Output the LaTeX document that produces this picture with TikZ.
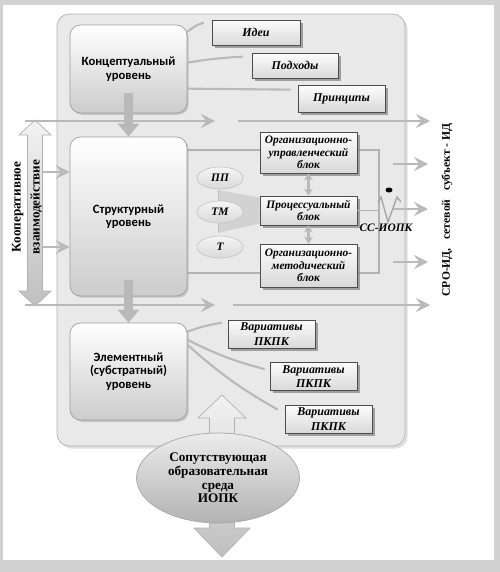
\documentclass[tikz,border=0pt]{standalone}
\usepackage{fontspec}
\setmainfont{Liberation Serif}
\newfontfamily\levelfont{Carlito}
\usetikzlibrary{arrows.meta,positioning,shapes.geometric,shadows}
\tikzset{%
  >={Latex[width=2mm,length=2mm]},
  % Specifications for style of nodes:
         base/.style = {rectangle, draw=gray!75, text centered, align=center,
                        inner sep=1pt},
     levelBox/.style = {base, rounded corners=6pt, top color=white,
                        bottom color=gray!40, minimum width=2.34cm,
                        drop shadow={opacity=0.35, shadow xshift=1pt, shadow yshift=-1pt},
                        font=\levelfont\bfseries\fontsize{7.2}{7.6}\selectfont},
      itemBox/.style = {base, draw=gray!60!black, top color=gray!2,
                        bottom color=gray!30,
                        drop shadow={opacity=0.7, shadow xshift=1.5pt, shadow yshift=-1.5pt},
                        font=\bfseries\itshape\fontsize{6.8}{8.3}\selectfont},
     blockBox/.style = {itemBox, minimum width=1.94cm,
                        font=\bfseries\itshape\fontsize{6.5}{7.2}\selectfont},
     formOval/.style = {ellipse, draw=gray!45, top color=gray!8, bottom color=gray!30,
                        minimum width=0.92cm, minimum height=0.44cm, inner sep=0pt,
                        font=\bfseries\itshape\fontsize{6.5}{7}\selectfont},
      envOval/.style = {ellipse, draw=gray!70, top color=gray!15, bottom color=gray!60,
                        minimum width=3.26cm, minimum height=1.8cm, inner sep=0pt,
                        align=center, font=\bfseries\fontsize{7.5}{7.8}\selectfont},
    flowArrow/.style = {draw=gray!55, line width=1.5pt,
                        -{Stealth[length=8pt,width=8pt,inset=3pt,fill=gray!20]}},
     dblArrow/.style = {draw=gray!55, line width=1.5pt,
                        {Stealth[length=4pt,width=5pt]}-{Stealth[length=4pt,width=5pt]}},
     fatArrow/.style = {draw=gray!55, line width=0.2cm,
                        -{Triangle[length=0.26cm,width=0.42cm]}},
     linkLine/.style = {draw=gray!55, line width=1.2pt},
    bigArrow/.style = {draw=gray!60, top color=gray!10, bottom color=gray!50},
}
\begin{document}
\begin{tikzpicture}[x=0.02cm, y=-0.02cm]
\useasboundingbox (0,0) rectangle (500,572);
% frame and panel
\fill[gray!35] (0,0) rectangle (500,572);
\fill[white] (3,5) rectangle (494,560);
\draw[gray!60, fill=gray!17, rounded corners=7pt,
      drop shadow={opacity=0.25, shadow xshift=1.5pt, shadow yshift=-1.5pt}]
      (57,14) rectangle (405,446);

% levels
\node (Conc)   [levelBox, minimum height=1.76cm] at (128.5,69)    {Концептуальный\\уровень};
\node (Struct) [levelBox, minimum height=3.18cm] at (128.5,216.5) {Структурный\\уровень};
\node (Elem)   [levelBox, minimum height=1.94cm] at (128.5,371.5) {Элементный\\(субстратный)\\уровень};

% inner frame of the blocks
\draw[gray!60, line width=0.7pt] (Struct.east |- 0,150) -- (379,150) -- (379,273)
      -- (Struct.east |- 0,273);

% blocks
\node (OrgUpr) [blockBox, minimum height=0.82cm] at (308.5,152.5) {Организационно-\\управленческий\\блок};
\node (Proc)   [blockBox, minimum height=0.58cm] at (308.5,210.5) {Процессуальный\\блок};
\node (OrgMet) [blockBox, minimum height=0.86cm] at (308.5,265.5) {Организационно-\\методический\\блок};
\draw[gray!60, line width=0.7pt] (Proc.east) -- (Proc.east -| 379,0);

% funnel and forms
\fill[gray!35] (218,190) -- ([yshift=-0.04cm]Proc.north west)
      -- ([yshift=0.04cm]Proc.south west) -- (218,233) -- cycle;
\draw[gray!50] (218,190) -- (218,233);
\node (PP) [formOval] at (220,178) {ПП};
\node (TM) [formOval] at (220,212) {ТМ};
\node (T)  [formOval] at (220,247) {Т};

\draw[dblArrow] (OrgUpr) -- (Proc);
\draw[dblArrow] (Proc) -- (OrgMet);

% network subject sign
\draw[gray!70, line width=0.8pt] (378,202) -- (381,197) -- (388,222) -- (397,197) -- (401,202);
\fill[black] (389,190) ellipse [x radius=0.07cm, y radius=0.05cm];
\node (SS) [font=\bfseries\itshape\fontsize{6.5}{7}\selectfont] at (386,228) {СС-ИОПК};

% top items
\node (Idei)  [itemBox, minimum width=1.76cm, minimum height=0.5cm]  at (256,32.5) {Идеи};
\node (Podh)  [itemBox, minimum width=1.72cm, minimum height=0.5cm]  at (295,65.5) {Подходы};
\node (Princ) [itemBox, minimum width=1.74cm, minimum height=0.54cm] at (341.5,98.5) {Принципы};
\draw[linkLine] ([yshift=-0.14cm]Conc.north east) to[bend left=10] ([xshift=-0.16cm,yshift=-0.06cm]Idei.north west);
\draw[linkLine] ([yshift=-0.76cm]Conc.north east) to[bend left=3] ([xshift=-0.18cm,yshift=-0.08cm]Podh.north west);
\draw[linkLine] ([yshift=-1.28cm]Conc.north east) -- ([xshift=-0.14cm,yshift=-0.1cm]Princ.north west);

% bottom items
\node (Var1) [itemBox, minimum width=1.74cm, minimum height=0.56cm] at (271.5,334) {Вариативы\\ПКПК};
\node (Var2) [itemBox, minimum width=1.74cm, minimum height=0.56cm] at (313.5,376.5) {Вариативы\\ПКПК};
\node (Var3) [itemBox, minimum width=1.74cm, minimum height=0.56cm] at (328.5,419) {Вариативы\\ПКПК};
\draw[linkLine] ([yshift=-0.18cm]Elem.north east) to[bend left=5] ([xshift=-0.12cm,yshift=-0.06cm]Var1.north west);
\draw[linkLine] ([yshift=-0.34cm]Elem.north east) to[bend right=6] ([xshift=-0.1cm,yshift=-0.14cm]Var2.north west);
\draw[linkLine] ([yshift=-0.44cm]Elem.north east) to[bend right=6] ([xshift=-0.14cm,yshift=-0.1cm]Var3.north west);

% cooperative interaction
\draw[bigArrow] (35,120) -- (51,135) -- (42.5,135) -- (42.5,291) -- (51,291) -- (35,306)
      -- (19,291) -- (27.5,291) -- (27.5,135) -- (19,135) -- cycle;
\node (Coop) [rotate=90, align=center, font=\bfseries\fontsize{7.5}{10.8}\selectfont]
      at (27,207) {Кооперативное\\взаимодействие};
\coordinate (c1) at (43,172);
\coordinate (c2) at (43,247);
\draw[flowArrow] (c1) -- (Struct.west |- c1);
\draw[flowArrow] (c2) -- (Struct.west |- c2);

% flows
\coordinate (h1a) at (25,121);  \coordinate (h1b) at (215,121);
\coordinate (h1c) at (238,121); \coordinate (h1d) at (430,121);
\coordinate (h2a) at (25,305);  \coordinate (h2b) at (215,305);
\coordinate (h2c) at (233,305); \coordinate (h2d) at (430,305);
\draw[flowArrow] (h1a) -- (h1b);
\draw[flowArrow] (h1c) -- (h1d);
\draw[flowArrow] (h2a) -- (h2b);
\draw[flowArrow] (h2c) -- (h2d);
\foreach \i/\y in {1/164,2/209,3/262}{
  \coordinate (o\i) at (393,\y);
  \coordinate (e\i) at (428,\y);
  \draw[flowArrow] (o\i) -- (e\i);
}

\draw[fatArrow] ([yshift=0.4cm]Conc.south) -- (Struct.north);
\draw[fatArrow] ([yshift=0.32cm]Struct.south) -- (Elem.north);

% environment
\draw[bigArrow] (222,395) -- (246,418) -- (234.5,418) -- (234.5,528) -- (250,528) -- (222,557)
      -- (194,528) -- (209.5,528) -- (209.5,418) -- (198,418) -- cycle;
\node (Env) [envOval] at (218,478) {Сопутствующая\\образовательная\\среда\\ИОПК};

\node (Side) [rotate=90, font=\bfseries\fontsize{6.6}{8}\selectfont] at (447,210)
      {СРО-ИД,\hspace{5pt}сетевой\hspace{5pt}субъект - ИД};
\end{tikzpicture}
\end{document}
